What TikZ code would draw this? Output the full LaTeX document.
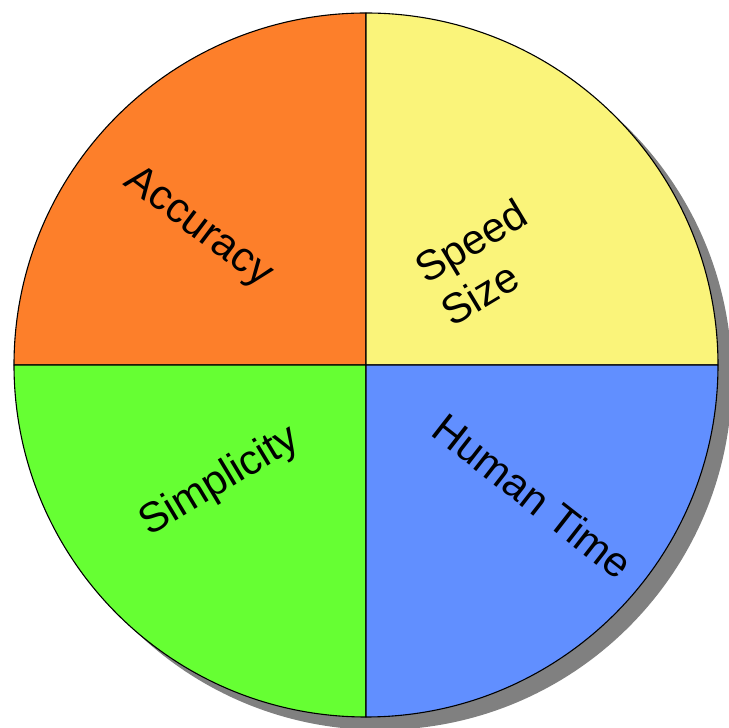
\documentclass[tikz,border=0pt]{standalone}
\usepackage{fontspec}
\setmainfont{Liberation Sans}
\definecolor{pieorange}{HTML}{FD7F2A}
\definecolor{pieyellow}{HTML}{FAF47A}
\definecolor{piegreen}{HTML}{66FF33}
\definecolor{pieblue}{HTML}{618FFF}
\definecolor{pieshadow}{HTML}{808080}
\begin{document}
\begin{tikzpicture}[x=1pt,y=1pt,
  slice/.style={draw=black,line width=1.1pt,line join=round},
  lbl/.style={font=\fontsize{42}{50}\selectfont,align=center,inner sep=0pt}]
\useasboundingbox (0,0) rectangle (729,728);
\coordinate (C) at (366,363);
% shadow
\fill[pieshadow] (380,350) circle (352);
% slices
\filldraw[slice,fill=pieorange] (C) -- ++(0,352) arc (90:180:352) -- cycle;
\filldraw[slice,fill=pieyellow] (C) -- ++(352,0) arc (0:90:352) -- cycle;
\filldraw[slice,fill=piegreen] (C) -- ++(-352,0) arc (180:270:352) -- cycle;
\filldraw[slice,fill=pieblue] (C) -- ++(0,-352) arc (270:360:352) -- cycle;
% labels
\node[lbl,rotate=-37] (acc) at (198,500) {Accuracy};
\node[lbl,rotate=31,align=left] (spd) at (484,466) {Speed\\Size};
\node[lbl,rotate=31] (sim) at (220,246) {Simplicity};
\node[lbl,rotate=-38] (hum) at (533,232) {Human Time};
\end{tikzpicture}
\end{document}
